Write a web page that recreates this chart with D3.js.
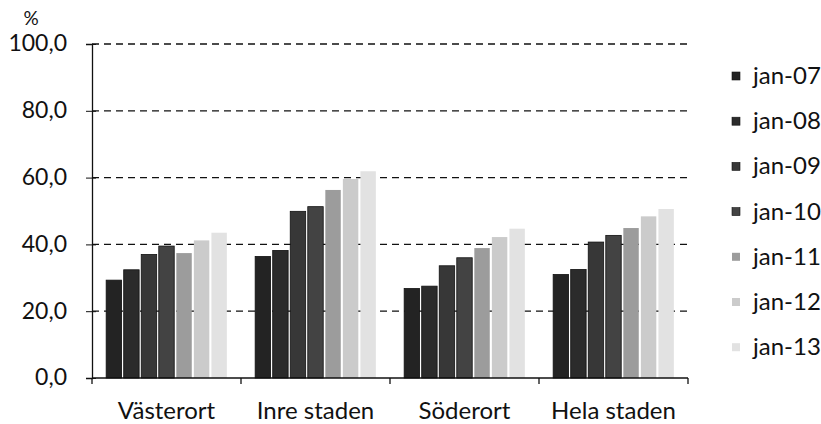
<!DOCTYPE html>
<html><head><meta charset="utf-8">
<script src="https://cdn.jsdelivr.net/npm/d3@7/dist/d3.min.js"></script>
<style>body{margin:0;background:#fff}svg{display:block}text{font-family:Lato,"Open Sans",sans-serif;fill:#111}</style>
</head><body><svg id="c" width="821" height="424"></svg>
<script>
const categories = ["Västerort", "Inre staden", "Söderort", "Hela staden"];
const seriesNames = ["jan-07", "jan-08", "jan-09", "jan-10", "jan-11", "jan-12", "jan-13"];
const jan07 = [29.3, 36.4, 26.8, 31.0];
const jan08 = [32.4, 38.2, 27.5, 32.5];
const jan09 = [37.0, 49.9, 33.6, 40.7];
const jan10 = [39.5, 51.3, 36.0, 42.7];
const jan11 = [37.4, 56.3, 38.9, 44.9];
const jan12 = [41.2, 59.6, 42.2, 48.4];
const jan13 = [43.5, 61.9, 44.7, 50.6];
const yTicks = [0, 20, 40, 60, 80, 100];

const series = [jan07, jan08, jan09, jan10, jan11, jan12, jan13];
const colors = ["#232323", "#2b2b2b", "#373737", "#434343", "#9c9c9c", "#cbcbcb", "#e2e2e2"];

const svg = d3.select("#c");
const m = {l: 92, r: 688, t: 44, b: 378};
const x0 = d3.scaleBand().domain(categories).range([m.l, m.r]).paddingInner(0.19).paddingOuter(0.095);
const x1 = d3.scaleBand().domain(seriesNames).range([0, x0.bandwidth()]).paddingInner(0.12);
const y = d3.scaleLinear().domain([0, 100]).range([m.b, m.t]);

// gridlines
svg.append("g").selectAll("line").data(yTicks.filter(d => d > 0)).join("line")
  .attr("x1", m.l).attr("x2", m.r).attr("y1", d => y(d)).attr("y2", d => y(d))
  .attr("stroke", "#111").attr("stroke-width", 1.3).attr("stroke-dasharray", "7,5");

// bars
const g = svg.append("g");
categories.forEach((c, ci) => {
  series.forEach((s, si) => {
    g.append("rect")
      .attr("x", x0(c) + x1(seriesNames[si]))
      .attr("y", y(s[ci]))
      .attr("width", x1.bandwidth())
      .attr("height", y(0) - y(s[ci]))
      .attr("fill", colors[si])
      .attr("stroke", si < 4 ? "#111" : "none").attr("stroke-width", 0.8);
  });
});

// y axis
const ya = d3.axisLeft(y).tickValues(yTicks).tickSize(6).tickFormat(d => d3.format(".1f")(d).replace(".", ","));
const yg = svg.append("g").attr("transform", `translate(${m.l},0)`).call(ya);
yg.select(".domain").attr("stroke", "#111").attr("stroke-width", 1.3);
yg.selectAll(".tick line").attr("stroke", "#111").attr("x2", 4).attr("x1", -6);
yg.selectAll(".tick text").attr("x", -25).attr("dy", "0.3em").attr("font-size", 23).attr("fill", "#111");

// x axis
const xb = d3.scalePoint().domain(d3.range(categories.length + 1)).range([m.l, m.r]);
svg.append("line").attr("x1", m.l).attr("x2", m.r).attr("y1", m.b).attr("y2", m.b).attr("stroke", "#111").attr("stroke-width", 1.3);
svg.append("g").selectAll("line").data(xb.domain()).join("line")
  .attr("x1", d => xb(d)).attr("x2", d => xb(d)).attr("y1", m.b).attr("y2", m.b + 6)
  .attr("stroke", "#111").attr("stroke-width", 1.3);
svg.append("g").selectAll("text").data(categories).join("text")
  .attr("x", d => x0(d) + x0.bandwidth() / 2).attr("y", 419)
  .attr("text-anchor", "middle").attr("font-size", 24).text(d => d);

svg.append("text").attr("x", 31).attr("y", 25).attr("font-size", 19).attr("text-anchor", "middle").text("%");

// legend
const lg = svg.append("g");
seriesNames.forEach((n, i) => {
  const ly = 76 + i * 45.2;
  lg.append("rect").attr("x", 732).attr("y", ly - 4).attr("width", 8).attr("height", 8)
    .attr("fill", colors[i]).attr("stroke", i < 4 ? "#111" : "none").attr("stroke-width", 0.6);
  lg.append("text").attr("x", 753).attr("y", ly + 8).attr("font-size", 24).text(n);
});
</script></body></html>
